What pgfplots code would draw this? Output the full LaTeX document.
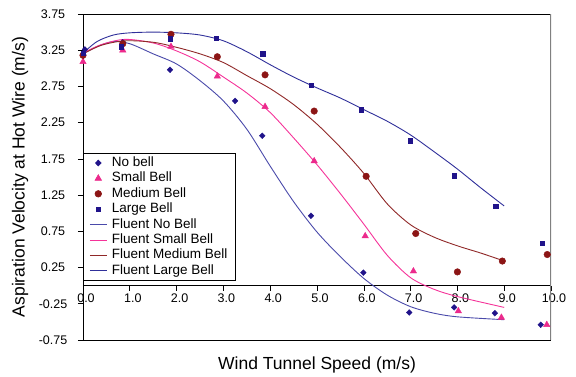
\documentclass[border=0pt]{standalone}
\usepackage{fontspec}
\setmainfont{Liberation Sans}
\usepackage{pgfplots}
\pgfplotsset{compat=1.18}
\definecolor{navyM}{HTML}{20138A}
\definecolor{pinkM}{HTML}{EC2A8C}
\definecolor{maroonM}{HTML}{8C1515}
\definecolor{lnNo}{HTML}{4A4AAA}
\definecolor{lnSmall}{HTML}{F53399}
\definecolor{lnMed}{HTML}{902828}
\definecolor{lnLarge}{HTML}{30309A}
\begin{document}
\begin{tikzpicture}
\begin{axis}[
  scale only axis, width=468pt, height=326pt,
  at={(0,0)}, anchor=south west,
  xmin=0, xmax=10, ymin=-0.75, ymax=3.75,
  axis x line*=middle, axis y line*=left,
  axis line style={black, line width=0.8pt},
  hide obscured x ticks=false, hide obscured y ticks=false,
  xtick={0,1,2,3,4,5,6,7,8,9,10},
  ytick={-0.75,-0.25,0.25,0.75,1.25,1.75,2.25,2.75,3.25,3.75},
  /pgf/number format/assume math mode=true,
  xticklabel style={/pgf/number format/fixed, /pgf/number format/fixed zerofill, /pgf/number format/precision=1, xshift=3pt},
  yticklabel style={/pgf/number format/fixed, /pgf/number format/fixed zerofill, /pgf/number format/precision=2, anchor=center, xshift=-25pt},
  tick align=outside, major tick length=5pt,
  tick style={black, line width=0.6pt},
  ticklabel style={font=\fontsize{12.5}{15}\selectfont},
  xlabel={Wind Tunnel Speed (m/s)},
  ylabel={Aspiration Velocity at Hot Wire (m/s)},
  label style={font=\fontsize{17.5}{21}\selectfont},
  xlabel style={at={(axis description cs:0.5,-0.089)}, anchor=base},
  ylabel style={at={(axis description cs:-0.1346,0.5)}, anchor=center},
  legend style={at={(axis description cs:0,0.5736)}, anchor=north west,
    draw=black, line width=0.6pt, fill=white,
    font=\fontsize{13.5}{16}\selectfont,
    nodes={inner sep=1.6pt, text height=9.6pt, text depth=2.6pt},
    row sep=0pt, column sep=3pt, inner xsep=6pt, inner ysep=2pt},
  legend cell align=left,
]
\addplot[only marks, mark=diamond*, mark size=2.9pt, mark options={xscale=1.3}, color=navyM] coordinates {
(0.04,3.26) (0.85,3.36) (1.86,2.98) (3.25,2.55) (3.83,2.07) (4.87,0.965)
(5.99,0.18) (6.97,-0.37) (7.93,-0.30) (8.80,-0.38) (9.78,-0.54)};
\addlegendentry{No bell}
\addplot[only marks, mark=triangle*, mark size=3.7pt, color=pinkM] coordinates {
(0.0,3.09) (0.85,3.25) (1.88,3.30) (2.87,2.89) (3.89,2.47) (4.94,1.72)
(6.03,0.685) (7.06,0.20) (8.02,-0.35) (8.94,-0.44) (9.91,-0.54)};
\addlegendentry{Small Bell}
\addplot[only marks, mark=*, mark size=3.3pt, color=maroonM] coordinates {
(0.0,3.18) (0.85,3.34) (1.88,3.47) (2.87,3.16) (3.89,2.91) (4.94,2.41)
(6.05,1.51) (7.11,0.72) (8.0,0.19) (8.96,0.34) (9.92,0.43)};
\addlegendentry{Medium Bell}
\addplot[only marks, mark=square*, mark size=2.2pt, color=navyM] coordinates {
(0.0,3.21) (0.82,3.30) (1.86,3.41) (2.84,3.42) (3.84,3.20) (4.87,2.77)
(5.95,2.43) (6.99,2.00) (7.93,1.52) (8.82,1.10) (9.81,0.59)};
\addlegendentry{Large Bell}
\addplot[lnNo, line width=0.9pt, smooth, tension=0.5, no marks] coordinates {
(0,3.20) (0.3,3.30) (0.65,3.37) (1.0,3.34) (1.5,3.20) (2.0,3.06) (2.5,2.83)
(3.0,2.55) (3.5,2.16) (4.0,1.65) (4.5,1.16) (5.0,0.74) (5.5,0.40) (6.0,0.10)
(6.5,-0.13) (7.0,-0.29) (7.5,-0.38) (8.0,-0.43) (9.0,-0.47)};
\addlegendentry{Fluent No Bell}
\addplot[lnSmall, line width=0.9pt, smooth, tension=0.5, no marks] coordinates {
(0,3.21) (0.4,3.33) (0.9,3.40) (1.5,3.35) (2.0,3.24) (2.5,3.09) (3.0,2.88)
(3.5,2.66) (4.0,2.39) (4.5,2.04) (5.0,1.67) (5.5,1.27) (6.0,0.85) (6.5,0.42)
(7.0,0.11) (7.5,-0.05) (8.0,-0.15) (9.0,-0.30)};
\addlegendentry{Fluent Small Bell}
\addplot[lnMed, line width=0.9pt, smooth, tension=0.5, no marks] coordinates {
(0,3.20) (0.4,3.32) (0.9,3.38) (1.5,3.36) (2.0,3.29) (2.5,3.20) (3.0,3.08)
(3.5,2.90) (4.0,2.72) (4.5,2.50) (5.0,2.23) (5.5,1.91) (6.0,1.55) (6.5,1.13)
(7.0,0.84) (7.5,0.67) (8.0,0.55) (8.5,0.45) (9.0,0.34)};
\addlegendentry{Fluent Medium Bell}
\addplot[lnLarge, line width=0.9pt, smooth, tension=0.5, no marks] coordinates {
(0,3.21) (0.3,3.37) (0.65,3.46) (1.0,3.49) (1.5,3.50) (2.0,3.49) (2.5,3.46)
(3.0,3.38) (3.5,3.23) (4.0,3.05) (4.5,2.88) (5.0,2.73) (5.5,2.59) (6.0,2.43)
(6.5,2.27) (7.0,2.08) (7.5,1.85) (8.0,1.61) (8.5,1.35) (9.0,1.10)};
\addlegendentry{Fluent Large Bell}
\draw[black, line width=0.8pt] (rel axis cs:0,1) -- (rel axis cs:1,1);
\draw[black, line width=0.8pt] (rel axis cs:0,0) -- (rel axis cs:1,0);
\draw[gray, line width=1.6pt] (rel axis cs:1,1) -- (rel axis cs:1,0);
\end{axis}
\pgfresetboundingbox
\path[use as bounding box] (-83pt,-36pt) rectangle (493pt,340pt);
\end{tikzpicture}
\end{document}
